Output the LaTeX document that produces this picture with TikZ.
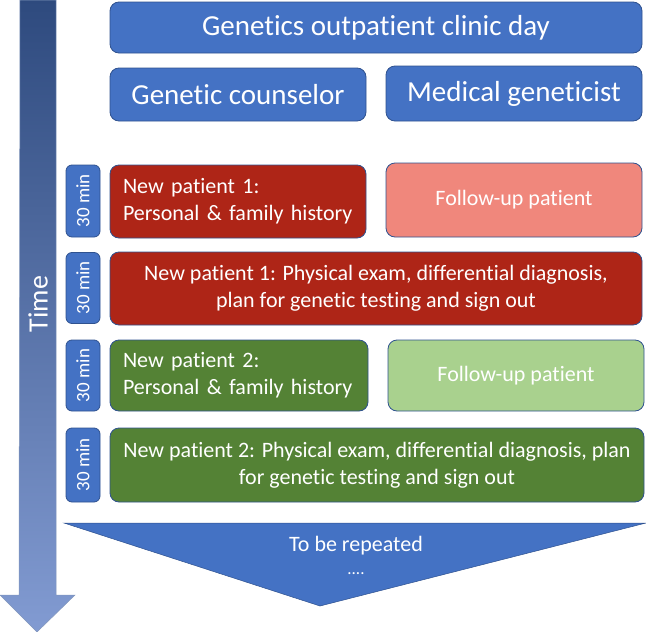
\documentclass[tikz,border=0pt]{standalone}
\usepackage{fontspec}
\setmainfont[Ligatures=NoCommon]{Carlito}
\definecolor{hdr}{HTML}{4472C4}
\definecolor{hdrline}{HTML}{2F528F}
\definecolor{redbox}{HTML}{AE2517}
\definecolor{pinkbox}{HTML}{F0877C}
\definecolor{greenbox}{HTML}{548235}
\definecolor{lgreen}{HTML}{A9D18E}
\definecolor{arrtop}{HTML}{2E4A7E}
\definecolor{arrbot}{HTML}{829BD2}
\tikzset{
  box/.style={draw=hdrline, line width=0.8pt, rounded corners=9pt, anchor=north west, inner sep=0pt, outer sep=0pt, text=white, align=center},
  hbox/.style={box, fill=hdr, font=\fontsize{29}{34}\selectfont},
  tbox/.style={box, fill=hdr, rounded corners=6pt, font=\fontsize{19}{22}\selectfont, minimum height=34pt, rotate=90, anchor=center},
  pbox/.style={box, font=\fontsize{22}{27}\selectfont},
}
\begin{document}
\begin{tikzpicture}[x=1pt,y=1pt]
\useasboundingbox (0,0) rectangle (646,-632);
% time arrow
\shade[top color=arrtop, bottom color=arrbot, draw=hdrline!60, line width=0.5pt]
  (20,0) -- (56,0) -- (56,-595) -- (75,-595) -- (37,-632) -- (0,-595) -- (19,-595) -- cycle;
\node[text=white, rotate=90, font=\fontsize{28}{32}\selectfont] (time) at (38,-304) {Time};
% headers
\node[hbox, minimum width=532pt, minimum height=51pt] (day) at (110,-2) {Genetics outpatient clinic day};
\node[hbox, minimum width=256pt, minimum height=53pt] (gc) at (110,-68) {Genetic counselor};
\node[hbox, minimum width=256pt, minimum height=55pt] (mg) at (386,-66) {Medical geneticist};
% 30 min boxes
\node[tbox, minimum width=72pt] (t1) at (83,-201) {30 min};
\node[tbox, minimum width=71pt] (t2) at (83,-288) {30 min};
\node[tbox, minimum width=71pt] (t3) at (83,-375.5) {30 min};
\node[tbox, minimum width=74pt] (t4) at (83,-465) {30 min};
% row 1
\node[pbox, fill=redbox, minimum height=73pt, text width=230pt, align=left, inner xsep=13pt] (np1a) at (110,-165) {New patient 1:\\Personal \& family history};
\node[pbox, fill=pinkbox, minimum width=256pt, minimum height=74pt] (fu1) at (386,-163) {Follow-up patient};
% row 2
\node[pbox, fill=redbox, minimum width=532pt, minimum height=73pt] (np1b) at (110,-252) {New patient 1: Physical exam, differential diagnosis,\\plan for genetic testing and sign out};
% row 3
\node[pbox, fill=greenbox, minimum height=71pt, text width=232pt, align=left, inner xsep=13pt] (np2a) at (110,-340) {New patient 2:\\Personal \& family history};
\node[pbox, fill=lgreen, minimum width=256pt, minimum height=71pt] (fu2) at (388,-340) {Follow-up patient};
% row 4
\node[pbox, fill=greenbox, minimum width=534pt, minimum height=74pt] (np2b) at (110,-428) {New patient 2: Physical exam, differential diagnosis, plan\\for genetic testing and sign out};
% repeat triangle
\draw[fill=hdr, draw=hdrline, line width=0.5pt] (64,-523) -- (646,-523) -- (320,-606) -- cycle;
\node[text=white, font=\fontsize{22}{27}\selectfont] (rep) at (356,-546) {To be repeated};
\node[text=white, font=\fontsize{17}{20}\selectfont] (dots) at (356,-574) {....};
\end{tikzpicture}
\end{document}
